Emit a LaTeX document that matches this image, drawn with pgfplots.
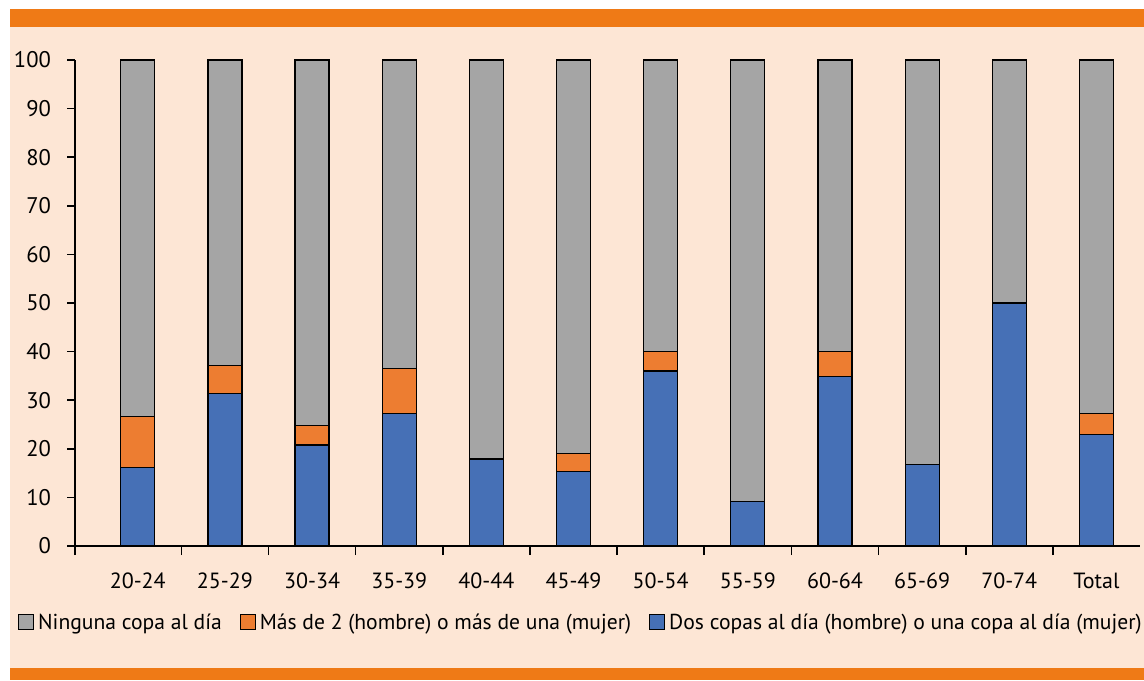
\documentclass[border=0pt]{standalone}
\usepackage{fontspec}
\setmainfont{PT Sans}
\usepackage{pgfplots}
\usepackage{pgfplotstable}
\pgfplotsset{compat=1.18}
\definecolor{bgpeach}{RGB}{253,230,213}
\definecolor{band}{RGB}{239,122,22}
\definecolor{cgray}{RGB}{165,165,165}
\definecolor{corange}{RGB}{237,125,49}
\definecolor{cblue}{RGB}{70,112,182}
\pgfplotstableread{
x blue orange gray
0 16.1 10.5 73.4
1 31.3 5.8 62.9
2 20.8 4.0 75.2
3 27.2 9.4 63.4
4 17.9 0 82.1
5 15.4 3.6 81.0
6 36.0 4.0 60.0
7 9.1 0 90.9
8 34.8 5.2 60.0
9 16.7 0 83.3
10 50.0 0 50.0
11 23.0 4.2 72.8
}\datatable
\begin{document}
\begin{tikzpicture}
\useasboundingbox (0pt,0pt) rectangle (572pt,340pt);
\fill[white] (0pt,0pt) rectangle (572pt,340pt);
\fill[bgpeach] (5pt,6pt) rectangle (572pt,326.5pt);
\fill[band] (5pt,326.5pt) rectangle (572pt,335.5pt);
\fill[band] (5pt,0pt) rectangle (572pt,6pt);
\begin{axis}[
  at={(37.5pt,67pt)}, anchor=south west,
  scale only axis, width=532.5pt, height=243pt,
  ybar stacked, bar width=17pt,
  xmin=-0.72, xmax=11.5, ymin=0, ymax=100,
  axis x line*=bottom, axis y line*=left,
  axis line style={line width=1pt, -},
  xtick={0,...,11},
  xticklabels={20-24,25-29,30-34,35-39,40-44,45-49,50-54,55-59,60-64,65-69,70-74,Total},
  major x tick style={draw=none},
  minor xtick={-0.72,0.5,1.5,2.5,3.5,4.5,5.5,6.5,7.5,8.5,9.5,10.5},
  minor x tick style={line width=0.8pt, black},
  minor tick length=4.5pt,
  ytick={0,10,...,100},
  y tick style={line width=0.8pt, black},
  major tick length=4pt,
  tick align=outside,
  xticklabel style={yshift=-6pt, font=\fontsize{11}{13}\selectfont},
  yticklabel style={xshift=-4.5pt, font=\fontsize{11.3}{13}\selectfont},
  /pgf/number format/assume math mode=true,
  legend style={draw=none, fill=none, at={(0.476,-0.158)}, anchor=center,
    legend columns=3, font=\fontsize{10.8}{12}\selectfont,
    /tikz/every even column/.append style={column sep=7pt}},
  legend image code/.code={\filldraw[#1, draw=black, line width=0.5pt] (0pt,-3.5pt) rectangle (7.5pt,4pt);},
  reverse legend,
  every axis plot/.append style={draw=black, line width=0.6pt},
]
\addplot[fill=cblue] table[x=x,y=blue] {\datatable};
\addplot[fill=corange] table[x=x,y=orange] {\datatable};
\addplot[fill=cgray] table[x=x,y=gray] {\datatable};
\legend{Dos copas al día (hombre) o una copa al día (mujer), Más de 2 (hombre) o más de una (mujer), Ninguna copa al día}
\end{axis}
\end{tikzpicture}
\end{document}
